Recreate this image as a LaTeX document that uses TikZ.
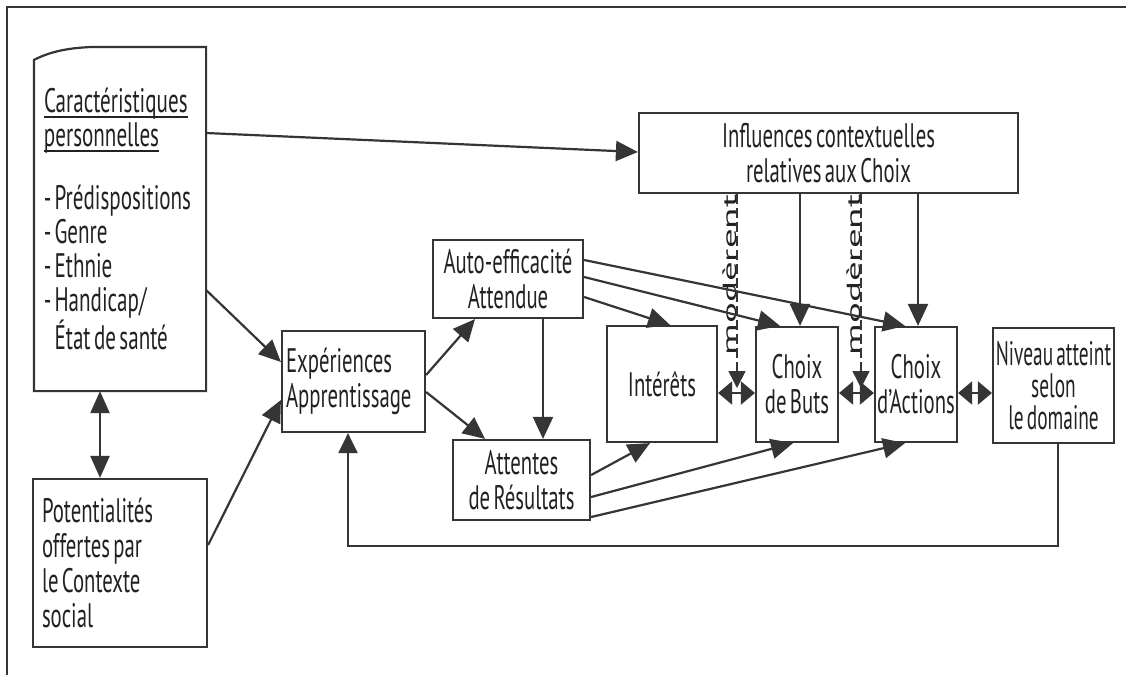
\documentclass[tikz,border=0pt]{standalone}
\usepackage{fontspec}
\setmainfont{PT Sans}[FakeStretch=0.61, WordSpace=0.6]
\newfontfamily\afont{PT Sans}[FakeStretch=0.62, WordSpace=0.6]
\newfontfamily\nfont{PT Sans}[FakeStretch=0.57, WordSpace=0.6]
\newfontfamily\modfont{PT Sans}
\usetikzlibrary{arrows.meta,calc}
\definecolor{ink}{HTML}{222222}
\definecolor{linec}{HTML}{353535}
\newcommand\ulx[1]{\leavevmode\setbox0\hbox{#1}\rlap{\rule[-5pt]{\wd0}{1.6pt}}\box0}
\begin{document}
\begin{tikzpicture}[x=1pt,y=-1pt,
  box/.style={draw=linec, line width=2.2pt, inner sep=0pt, text=ink,
    font=\fontsize{34}{35}\selectfont, align=center},
  conn/.style={draw=linec, line width=2.2pt, -{Triangle[length=22pt,width=20pt]}},
  dbl/.style={draw=linec, line width=2.2pt,
    {Triangle[length=14pt,width=23pt]}-{Triangle[length=14pt,width=23pt]}},
  moder/.style={draw=linec, line width=1.6pt, dash pattern=on 10pt off 4pt,
    -{Triangle[length=17pt,width=17pt]}},
  modtxt/.style={rotate=90, anchor=base, text=ink, inner sep=0pt,
    font=\modfont\fontsize{19}{22}\selectfont}
]
\useasboundingbox (0,0) rectangle (1126,675);
\fill[white] (0,0) rectangle (1126,675);
% frame
\draw[linec, line width=2.4pt] (7,675) -- (7,7) -- (1126,7);

% nodes
\node[box, draw=none, minimum width=170pt, minimum height=342pt, text width=152pt, align=flush left,
      font=\afont\fontsize{34}{34}\selectfont] (A) at (120,219)
  {\ulx{Caractéristiques}\\ \ulx{personnelles}\\[29pt]
   -\hspace{3pt}Prédispositions\\ -\hspace{3pt}Genre\\ -\hspace{3pt}Ethnie\\ -\hspace{3pt}Handicap/\\ \hphantom{-\hspace{3pt}}État de santé};
\draw[linec, line width=2.2pt]
  (A.south west) -- ([yshift=-13pt]A.north west)
  .. controls ([xshift=14pt,yshift=-6pt]A.north west) and ([xshift=30pt,yshift=-1pt]A.north west)
  .. ([xshift=60pt]A.north west) -- (A.north east) -- (A.south east) -- cycle;
\node[box, minimum width=174pt, minimum height=168pt, text width=156pt, align=flush left] (B) at (120,563)
  {Potentialités\\ offertes par\\ le Contexte\\ social};
\node[box, minimum width=143pt, minimum height=101pt, text width=135pt, align=flush left] (E) at (353.5,381.5)
  {Expériences\\ Apprentissage};
\node[box, minimum width=150pt, minimum height=78pt] (AE) at (508,279) {Auto-efficacité\\ Attendue};
\node[box, minimum width=137pt, minimum height=80pt] (AR) at (521.5,480) {Attentes\\ de Résultats};
\node[box, minimum width=110pt, minimum height=116pt] (I) at (662,384) {Intérêts};
\node[box, minimum width=82pt, minimum height=115pt] (CB) at (797,384.5) {Choix\\ de Buts};
\node[box, minimum width=82pt, minimum height=115pt] (CA) at (916,384.5) {Choix\\ d’Actions};
\node[box, minimum width=121pt, minimum height=115pt, font=\nfont\fontsize{34}{32}\selectfont] (N) at (1053.5,385.5)
  {Niveau atteint\\ selon\\ le domaine};
\node[box, minimum width=379pt, minimum height=80pt] (IC) at (828.5,153)
  {Influences contextuelles\\ relatives aux Choix};

% modèrent labels
\node[modtxt] (mt1) at (736,275) {\scalebox{2.05}[1]{modèrent}};
\node[modtxt] (mt2) at (860,275) {\scalebox{2.05}[1]{modèrent}};
\coordinate (m1) at (737,388);
\coordinate (m2) at (861,388);

% connectors
\draw[conn] ([yshift=86pt]A.east) -- ([yshift=1pt]IC.west);
\draw[conn] ([yshift=-71pt]A.east) -- ([yshift=19.5pt]E.west);
\draw[conn] ([yshift=18pt]B.east) -- ([yshift=-18.5pt]E.west);
\draw[draw=linec, line width=2.2pt, {Triangle[length=22pt,width=19pt]}-{Triangle[length=22pt,width=19pt]}]
  ([xshift=-20pt]A.south) -- ([xshift=-20pt]B.north);
\draw[conn] ([yshift=6.5pt]E.east) -- ([xshift=-33pt]AE.south);
\draw[conn] ([yshift=-10.5pt]E.east) -- ([xshift=-36.5pt]AR.north);
\draw[conn] ([xshift=35pt]AE.south) -- ([xshift=21.5pt]AR.north);
\draw[conn] ([yshift=-18pt]AE.east) -- ([xshift=8pt]I.north);
\draw[conn] ([yshift=2pt]AE.east) -- ([xshift=-17pt]CB.north);
\draw[conn] ([yshift=19pt]AE.east) -- ([xshift=-11pt]CA.north);
\draw[conn] ([xshift=-28.5pt]IC.south) -- ([xshift=3pt]CB.north);
\draw[conn] ([xshift=89.5pt]IC.south) -- ([xshift=2pt]CA.north);
\draw[conn] ([yshift=5pt]AR.east) -- ([xshift=-12pt]I.south);
\draw[conn] ([yshift=-17pt]AR.east) -- ([xshift=-4pt]CB.south);
\draw[conn] ([yshift=-37pt]AR.east) -- ([xshift=-11pt]CA.south);
\draw[dbl] ([yshift=-9pt]I.east) -- ([yshift=-8.5pt]CB.west);
\draw[dbl] ([yshift=-8.5pt]CB.east) -- ([yshift=-8.5pt]CA.west);
\draw[dbl] ([yshift=-8.5pt]CA.east) -- ([yshift=-7.5pt]N.west);
\draw[moder] (IC.south -| m1) -- (m1);
\draw[moder] (IC.south -| m2) -- (m2);
\draw[draw=linec, line width=2.2pt, -{Triangle[length=20pt,width=19pt]}]
  ([xshift=4.5pt]N.south) -- ++(0,102) -| ([xshift=-5.5pt]E.south);
\end{tikzpicture}
\end{document}
